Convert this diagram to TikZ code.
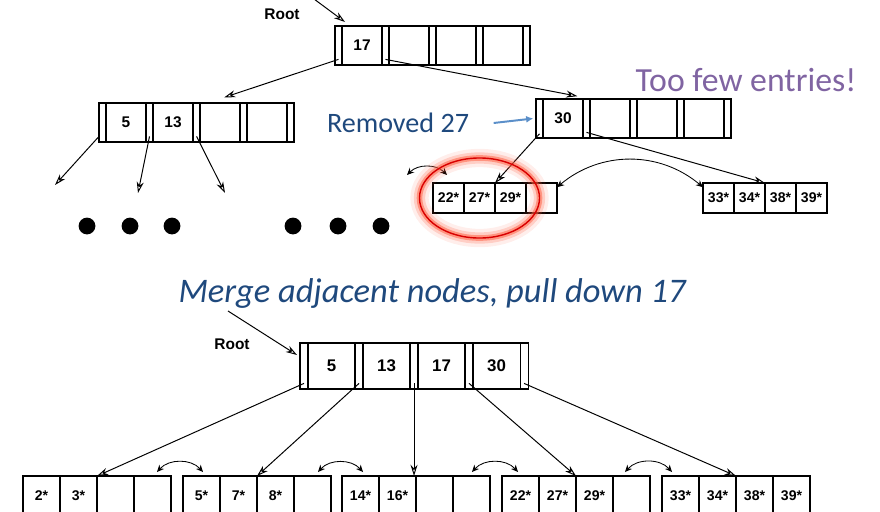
\documentclass[tikz,border=0pt]{standalone}
\usepackage{fontspec}
\setmainfont{Liberation Sans}
\newfontfamily\slidefont{Carlito}
\usetikzlibrary{positioning,calc,arrows.meta}

\definecolor{textblue}{HTML}{1F497D}
\definecolor{notepurple}{HTML}{8064A2}
\definecolor{hintblue}{HTML}{5B8FC9}
\definecolor{glowred}{HTML}{FF5A3C}

\begin{document}
\begin{tikzpicture}[x=0.025cm, y=-0.025cm,
    slot/.style={draw, line width=0.8pt, inner sep=0pt, outer sep=0pt,
        minimum width=0.175cm, minimum height=0.975cm},
    key/.style={slot, minimum width=1cm,
        font=\fontsize{11}{13}\selectfont\bfseries},
    bigslot/.style={slot, minimum width=0.2cm, minimum height=1.15cm},
    bigkey/.style={key, minimum width=1.175cm, minimum height=1.15cm,
        font=\fontsize{12}{14}\selectfont\bfseries},
    leaf/.style={draw, line width=0.8pt, inner sep=0pt, outer sep=0pt,
        minimum width=0.775cm, minimum height=0.75cm,
        font=\fontsize{10}{12}\selectfont\bfseries},
    bigleaf/.style={leaf, minimum width=0.925cm, minimum height=1cm},
    ptr/.style={-{Stealth[open, length=8pt, width=5pt]}, line width=0.7pt},
    swap/.style={{Stealth[length=5pt, width=4.5pt]}-{Stealth[length=5pt, width=4.5pt]}, line width=0.6pt},
    dot/.style={circle, fill, inner sep=0pt, minimum size=0.42cm},
    lbl/.style={font=\fontsize{11}{13}\selectfont\bfseries}
]

    \useasboundingbox (0,0) rectangle (880,512);
    \clip (0,0) rectangle (880,512);

    %---------------- ARBOL ANTES ----------------
    % raiz con 17
    \node[slot, anchor=north west] (t0) at (335,26) {};
    \node[key, right=0pt of t0] (t1) {17};
    \node[slot, right=0pt of t1] (t2) {};
    \node[key, right=0pt of t2] (t3) {};
    \node[slot, right=0pt of t3] (t4) {};
    \node[key, right=0pt of t4] (t5) {};
    \node[slot, right=0pt of t5] (t6) {};
    \node[key, right=0pt of t6] (t7) {};
    \node[slot, right=0pt of t7] (t8) {};

    \node[lbl] (rootA) at (282,14) {Root};
    \coordinate (ra) at (314,-1);
    \draw[ptr] (ra) -- ($(t0.north east)+(3,-4)$);

    % nodo interno izquierdo
    \node[slot, anchor=north west] (l0) at (99,103) {};
    \node[key, right=0pt of l0] (l1) {5};
    \node[slot, right=0pt of l1] (l2) {};
    \node[key, right=0pt of l2] (l3) {13};
    \node[slot, right=0pt of l3] (l4) {};
    \node[key, right=0pt of l4] (l5) {};
    \node[slot, right=0pt of l5] (l6) {};
    \node[key, right=0pt of l6] (l7) {};
    \node[slot, right=0pt of l7] (l8) {};

    % nodo interno derecho
    \node[slot, anchor=north west] (r0) at (536,99) {};
    \node[key, right=0pt of r0] (r1) {30};
    \node[slot, right=0pt of r1] (r2) {};
    \node[key, right=0pt of r2] (r3) {};
    \node[slot, right=0pt of r3] (r4) {};
    \node[key, right=0pt of r4] (r5) {};
    \node[slot, right=0pt of r5] (r6) {};
    \node[key, right=0pt of r6] (r7) {};
    \node[slot, right=0pt of r7] (r8) {};

    \draw[ptr] ([yshift=4pt]t0.south) -- ([xshift=3pt,yshift=4pt]l5.north);
    \draw[ptr] ([yshift=4pt]t2.south) -- ([xshift=-4pt,yshift=2pt]r1.north east);

    % hojas
    \node[leaf, anchor=north west] (a1) at (433,183) {22*};
    \node[leaf, right=0pt of a1] (a2) {27*};
    \node[leaf, right=0pt of a2] (a3) {29*};
    \node[leaf, right=0pt of a3] (a4) {};

    \node[leaf, anchor=north west] (b1) at (703,183) {33*};
    \node[leaf, right=0pt of b1] (b2) {34*};
    \node[leaf, right=0pt of b2] (b3) {38*};
    \node[leaf, right=0pt of b3] (b4) {39*};

    \draw[ptr] ([yshift=3pt]r0.south) -- (a3.north west);
    \draw[ptr] ([yshift=4pt]r2.south) -- (b3.north west);

    \coordinate (s0) at (407,175);
    \coordinate (s1) at (447,175);
    \draw[swap] (s0) to[bend left=45] (s1);
    \draw[swap] ([yshift=-3pt]a4.north east) to[bend left=40] ([yshift=-3pt]b1.north west);

    % puntos suspensivos
    \node[dot] (d1) at (87,226) {};
    \node[dot] (d2) at (130,226) {};
    \node[dot] (d3) at (172,226) {};
    \node[dot] (d4) at (293,226) {};
    \node[dot] (d5) at (338,226) {};
    \node[dot] (d6) at (381,226) {};

    \coordinate (q1) at (55,185);
    \coordinate (q2) at (138,193);
    \coordinate (q3) at (225,193);
    \draw[ptr] ([yshift=4pt]l0.south west) -- (q1);
    \draw[ptr] ([yshift=4pt]l2.south) -- (q2);
    \draw[ptr] ([yshift=4pt]l4.south) -- (q3);

    %---------------- ANOTACIONES ----------------
    \node[font=\slidefont\fontsize{20}{24}\selectfont, text=textblue] (removed) at (398,123) {Removed 27};
    \draw[-{Latex[length=5pt, width=5pt]}, line width=1.4pt, hintblue]
    ([xshift=14pt]removed.east) -- ([xshift=-2pt]r0.west);

    \node[font=\slidefont\fontsize{24}{28}\selectfont, text=notepurple] (few) at (746,80) {Too few entries!};

    % halo rojo alrededor de la hoja
    \draw[glowred, line width=13pt, opacity=0.1] (a2.center) ellipse [x radius=1.5cm, y radius=1cm];
    \draw[glowred, line width=8pt, opacity=0.22] (a2.center) ellipse [x radius=1.5cm, y radius=1cm];
    \draw[glowred, line width=4pt, opacity=0.5] (a2.center) ellipse [x radius=1.5cm, y radius=1cm];
    \draw[red!85!black, line width=1pt] (a2.center) ellipse [x radius=1.5cm, y radius=1cm];

    \node[font=\slidefont\itshape\fontsize{24.5}{28}\selectfont, text=textblue] (merge) at (432,293)
    {Merge adjacent nodes, pull down 17};

    %---------------- ARBOL DESPUES ----------------
    \node[bigslot, anchor=north west] (u0) at (300,343) {};
    \node[bigkey, right=0pt of u0] (u1) {5};
    \node[bigslot, right=0pt of u1] (u2) {};
    \node[bigkey, right=0pt of u2] (u3) {13};
    \node[bigslot, right=0pt of u3] (u4) {};
    \node[bigkey, right=0pt of u4] (u5) {17};
    \node[bigslot, right=0pt of u5] (u6) {};
    \node[bigkey, right=0pt of u6] (u7) {30};
    \node[bigslot, right=0pt of u7] (u8) {};

    \node[lbl] (rootB) at (232,344) {Root};
    \coordinate (rb) at (228,311);
    \draw[ptr] (rb) -- ($(u0.north west)+(-3,12)$);

    % hojas de abajo
    \node[bigleaf, anchor=north west] (c1) at (23,476) {2*};
    \node[bigleaf, right=0pt of c1] (c2) {3*};
    \node[bigleaf, right=0pt of c2] (c3) {};
    \node[bigleaf, right=0pt of c3] (c4) {};

    \node[bigleaf, anchor=north west] (h1) at (183,476) {5*};
    \node[bigleaf, right=0pt of h1] (h2) {7*};
    \node[bigleaf, right=0pt of h2] (h3) {8*};
    \node[bigleaf, right=0pt of h3] (h4) {};

    \node[bigleaf, anchor=north west] (e1) at (342,476) {14*};
    \node[bigleaf, right=0pt of e1] (e2) {16*};
    \node[bigleaf, right=0pt of e2] (e3) {};
    \node[bigleaf, right=0pt of e3] (e4) {};

    \node[bigleaf, anchor=north west] (f1) at (502,476) {22*};
    \node[bigleaf, right=0pt of f1] (f2) {27*};
    \node[bigleaf, right=0pt of f2] (f3) {29*};
    \node[bigleaf, right=0pt of f3] (f4) {};

    \node[bigleaf, anchor=north west] (g1) at (662,476) {33*};
    \node[bigleaf, right=0pt of g1] (g2) {34*};
    \node[bigleaf, right=0pt of g2] (g3) {38*};
    \node[bigleaf, right=0pt of g3] (g4) {39*};

    \draw[ptr] ([yshift=4pt]u0.south) -- (c3.north west);
    \draw[ptr] ([yshift=4pt]u2.south) -- (h3.north west);
    \draw[ptr] ([yshift=4pt]u4.south) -- (u4.south |- e3.north);
    \draw[ptr] ([yshift=4pt]u6.south) -- (f3.north west);
    \draw[ptr] ([yshift=4pt]u8.south) -- (g3.north west);

    \coordinate (v1) at (157,472);
    \coordinate (v2) at (203,472);
    \coordinate (v3) at (318,472);
    \coordinate (v4) at (363,472);
    \coordinate (v5) at (472,472);
    \coordinate (v6) at (518,472);
    \coordinate (v7) at (625,472);
    \coordinate (v8) at (672,472);
    \draw[swap] (v1) to[bend left=48] (v2);
    \draw[swap] (v3) to[bend left=48] (v4);
    \draw[swap] (v5) to[bend left=48] (v6);
    \draw[swap] (v7) to[bend left=48] (v8);

\end{tikzpicture}
\end{document}
